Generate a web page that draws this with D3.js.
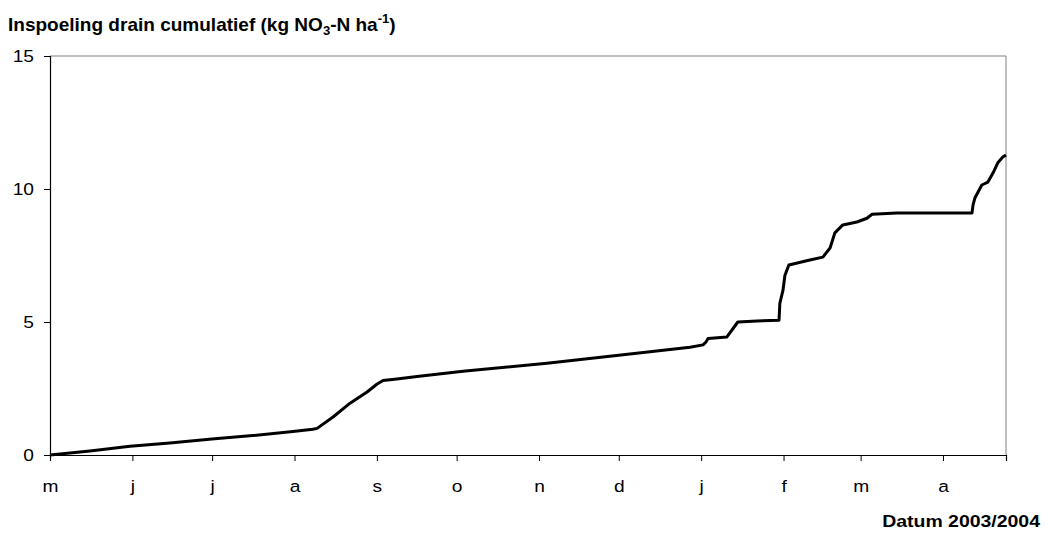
<!DOCTYPE html>
<html>
<head>
<meta charset="utf-8">
<script src="https://cdn.jsdelivr.net/npm/d3@7"></script>
<style>
  body { margin: 0; background: #fff; }
  text { font-family: Arial, "Liberation Sans", sans-serif; }
</style>
</head>
<body>
<svg id="chart" width="1048" height="536"></svg>
<script>
// days since 1 May 2003
const days = [0, 15.0, 30.1, 45.1, 60.9, 75.2, 91.4, 98.9, 100.5, 106.5, 112.9, 119.3,
  123.1, 125.3, 130.5, 138.1, 155.4, 187.0, 218.2, 240.8, 245.7, 246.8, 247.6, 254.7,
  258.8, 266.0, 274.3, 274.6, 275.8, 276.5, 278.0, 285.9, 290.8, 293.5, 295.3, 298.3,
  303.6, 307.4, 309.3, 318.7, 346.9, 347.3, 348.0, 350.6, 352.9, 354.8, 356.7, 358.5, 359.7];
// cumulative leaching (kg NO3-N / ha)
const values = [0, 0.15, 0.33, 0.45, 0.6, 0.72, 0.88, 0.97, 1.0, 1.43, 1.95, 2.37,
  2.67, 2.8, 2.86, 2.95, 3.15, 3.45, 3.8, 4.05, 4.14, 4.25, 4.38, 4.44,
  5.0, 5.04, 5.07, 5.7, 6.2, 6.75, 7.14, 7.33, 7.44, 7.78, 8.35, 8.65,
  8.76, 8.9, 9.05, 9.1, 9.1, 9.4, 9.66, 10.15, 10.26, 10.6, 11.0, 11.2, 11.28];
const monthLabels = ["m", "j", "j", "a", "s", "o", "n", "d", "j", "f", "m", "a"];
const yTicks = [0, 5, 10, 15];

const svg = d3.select("#chart");
const plotLeft = 50, plotRight = 1006, plotTop = 56, plotBottom = 455;
const stretch = 1.13; // the original text is a bit wide

const start = Date.UTC(2003, 4, 1);
const toDate = (d) => new Date(start + d * 864e5);
const data = days.map((d, i) => ({ date: toDate(d), value: values[i] }));

const x = d3.scaleUtc().domain([toDate(0), toDate(d3.max(days))]).range([plotLeft, plotRight]);
const y = d3.scaleLinear().domain([0, 15]).range([plotBottom, plotTop]);

// frame (top and right in grey)
svg.append("path")
  .attr("d", `M${plotLeft},${plotTop}H${plotRight}V${plotBottom}`)
  .attr("fill", "none")
  .attr("stroke", "#808080")
  .attr("stroke-width", 1);

// x axis
const months = d3.utcMonths(toDate(0), toDate(d3.max(days)));
const xAxis = svg.append("g")
  .attr("transform", `translate(0,${plotBottom})`)
  .call(d3.axisBottom(x).tickValues(months).tickSizeOuter(0).tickSize(6).tickPadding(19)
    .tickFormat((d, i) => monthLabels[i]));
xAxis.select(".domain").attr("stroke", "#000").attr("stroke-width", 1.2);
xAxis.selectAll("text")
  .attr("font-size", "17px").attr("fill", "#000")
  .attr("transform", `scale(${stretch},1)`);

// y axis
const yAxis = svg.append("g")
  .attr("transform", `translate(${plotLeft},0)`)
  .call(d3.axisLeft(y).tickValues(yTicks).tickSizeOuter(0).tickSize(6));
yAxis.select(".domain").attr("stroke", "#000").attr("stroke-width", 1.2);
yAxis.selectAll("text")
  .attr("font-size", "17px").attr("fill", "#000")
  .attr("x", 0)
  .attr("transform", `translate(-16,0) scale(${stretch},1)`);

// the cumulative line
svg.append("path")
  .datum(data)
  .attr("fill", "none")
  .attr("stroke", "#000")
  .attr("stroke-width", 3)
  .attr("stroke-linejoin", "round")
  .attr("d", d3.line().x((d) => x(d.date)).y((d) => y(d.value)));

// title with sub and superscript
const title = svg.append("text")
  .attr("font-size", "17.5px")
  .attr("font-weight", "bold");
title.append("tspan").text("Inspoeling drain cumulatief (kg NO");
title.append("tspan").attr("font-size", "12px").attr("dy", 4).text("3");
title.append("tspan").attr("dy", -4).text("-N ha");
title.append("tspan").attr("font-size", "12px").attr("dy", -8).text("-1");
title.append("tspan").attr("dy", 8).text(")");
const tw = title.node().getComputedTextLength();
title.attr("transform", `translate(8,31) scale(${388 / tw},1)`);

// x axis title
const xt = svg.append("text")
  .attr("font-size", "16px")
  .attr("font-weight", "bold")
  .attr("text-anchor", "end")
  .text("Datum 2003/2004");
const xw = xt.node().getComputedTextLength();
xt.attr("transform", `translate(1040,527) scale(${158 / xw},1)`);
</script>
</body>
</html>
